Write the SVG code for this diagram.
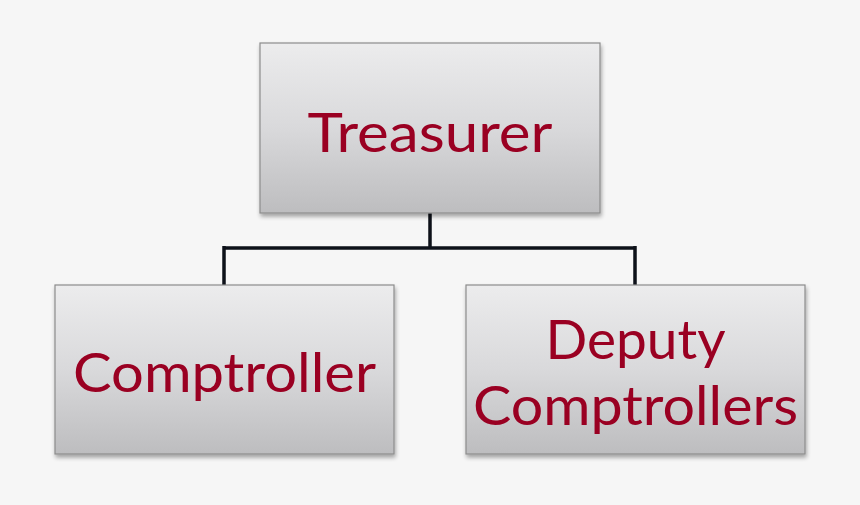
<svg xmlns="http://www.w3.org/2000/svg" width="860" height="505" viewBox="0 0 860 505">
<defs>
<linearGradient id="g" x1="0" y1="0" x2="0" y2="1">
<stop offset="0" stop-color="#ececed"/>
<stop offset="0.5" stop-color="#d9d9db"/>
<stop offset="1" stop-color="#bdbdbf"/>
</linearGradient>
<filter id="sh" x="-5%" y="-5%" width="112%" height="115%">
<feGaussianBlur in="SourceAlpha" stdDeviation="2"/>
<feOffset dx="1" dy="3" result="b"/>
<feComponentTransfer><feFuncA type="linear" slope="0.35"/></feComponentTransfer>
<feMerge><feMergeNode/><feMergeNode in="SourceGraphic"/></feMerge>
</filter>
</defs>
<style>
.box{fill:url(#g);stroke:#8c8c8c;stroke-width:1.2;filter:url(#sh)}
.t{font-family:Lato,"Open Sans","Liberation Sans",sans-serif;font-size:54px;fill:#9a0022;text-anchor:middle}
.c{fill:none;stroke:#0d1119;stroke-width:3.5}
</style>
<rect width="860" height="505" fill="#f6f6f6"/>
<g id="connectors">
<path class="c" d="M430,213 V248 M224,248 H636 M224,246 V285 M635,246 V285"/>
</g>
<g id="treasurer">
<rect class="box" x="260" y="43" width="340" height="170"/>
<text class="t" x="430" y="152" textLength="245" lengthAdjust="spacingAndGlyphs">Treasurer</text>
</g>
<g id="comptroller">
<rect class="box" x="55" y="285" width="339" height="169"/>
<text class="t" x="224.5" y="392" textLength="303" lengthAdjust="spacingAndGlyphs">Comptroller</text>
</g>
<g id="deputy">
<rect class="box" x="466" y="285" width="339" height="169"/>
<text class="t" x="635.5" y="359" textLength="180" lengthAdjust="spacingAndGlyphs">Deputy</text>
<text class="t" x="635.5" y="425" textLength="325" lengthAdjust="spacingAndGlyphs">Comptrollers</text>
</g>
</svg>
